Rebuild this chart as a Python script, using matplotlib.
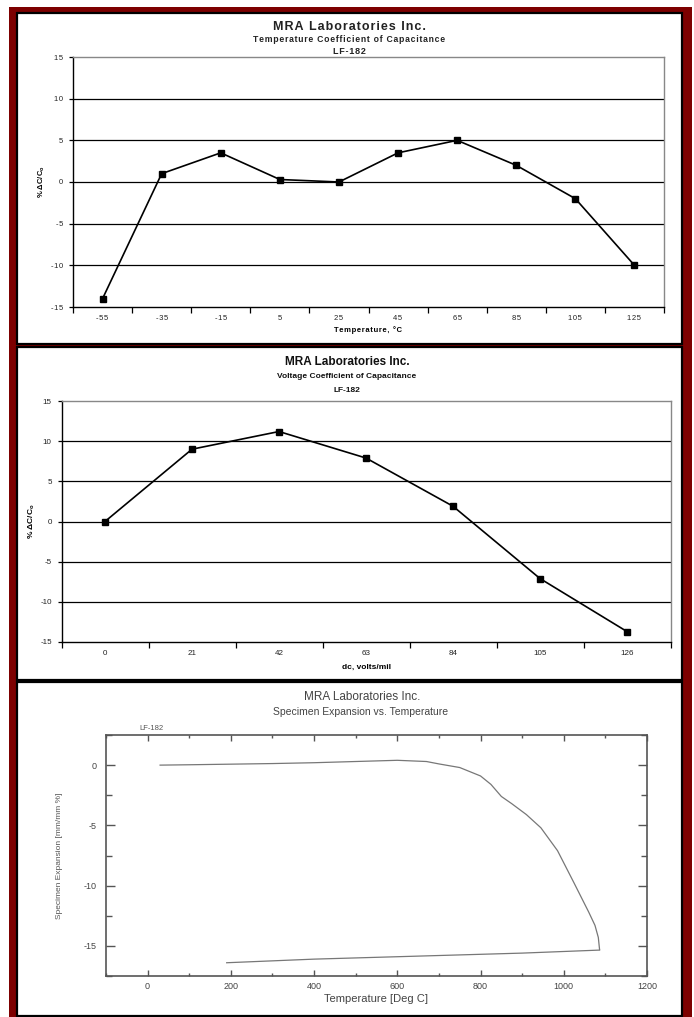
import numpy as np
import matplotlib.pyplot as plt
from matplotlib.patches import Rectangle
from matplotlib.ticker import MultipleLocator

# figure size in pixels
W, H = 694, 1017

# -----------------------------
# DATA
# -----------------------------
# temperature coefficient of capacitance
tc_temps = ["-55", "-35", "-15", "5", "25", "45", "65", "85", "105", "125"]
tc_change = [-14, 1, 3.5, 0.3, 0, 3.5, 5, 2, -2, -10]

# voltage coefficient of capacitance
vc_fields = ["0", "21", "42", "63", "84", "105", "126"]
vc_change = [0, 9, 11.2, 7.9, 1.9, -7.1, -13.7]

# dilatometer trace, heating leg then cooling leg
heat_temp = [30, 100, 200, 300, 400, 500, 600, 670, 700, 750, 800, 825, 850,
             875, 910, 945, 985, 1025, 1060, 1075, 1083, 1086]
heat_exp = [0.0, 0.03, 0.08, 0.13, 0.2, 0.3, 0.4, 0.3, 0.1, -0.2, -0.9, -1.6,
            -2.6, -3.2, -4.1, -5.2, -7.1, -9.8, -12.2, -13.3, -14.3, -15.3]
cool_temp = [1086, 900, 600, 400, 190]
cool_exp = [-15.35, -15.6, -15.9, -16.1, -16.4]

plt.rcParams['font.family'] = ['Liberation Sans', 'DejaVu Sans']
plt.rcParams['axes.unicode_minus'] = False


def box(x0, y0, x1, y1):
    # pixel box, top-left origin -> figure fraction rect
    return [x0 / W, 1 - y1 / H, (x1 - x0) / W, (y1 - y0) / H]


def px(x, y):
    return x / W, 1 - y / H


def spaced(s):
    # mimic the letter-spaced Excel fonts
    return "\u200a".join(s)


fig = plt.figure(figsize=(W / 100, H / 100), dpi=100)
fig.patch.set_facecolor("white")

# red frame + white panels
fig.add_artist(Rectangle(px(9, 1017), (692 - 9) / W, (1017 - 7) / H,
                         transform=fig.transFigure, facecolor="#7d0000",
                         edgecolor="none", zorder=0))
for (x0, y0, x1, y1) in [(17, 13, 682, 344), (17, 347, 682, 680), (17, 682, 682, 1016)]:
    fig.add_artist(Rectangle(px(x0, y1), (x1 - x0) / W, (y1 - y0) / H,
                             transform=fig.transFigure, facecolor="white",
                             edgecolor="black", lw=1.6, zorder=1))


def excel_axes(rect, labels, values, fs):
    ax = fig.add_axes(rect)
    ax.set_zorder(2)
    n = len(labels)
    ax.plot(range(n), values, color="black", lw=1.2, marker="s", ms=5,
            mfc="black", mec="black", zorder=3)
    ax.set_xlim(-0.5, n - 0.5)
    ax.set_ylim(-15, 15)
    ax.set_yticks(range(-15, 16, 5))
    for y in ax.get_yticks()[1:-1]:
        ax.axhline(y, color="black", lw=0.9, zorder=1)
    ax.set_xticks(range(n))
    ax.set_xticklabels(labels)
    ax.set_xticks(np.arange(-0.5, n, 1), minor=True)
    ax.tick_params(axis="x", which="major", length=0, pad=6, labelsize=fs, labelcolor="#222")
    ax.tick_params(axis="x", which="minor", length=4, width=0.9, direction="out", color="black")
    ax.tick_params(axis="y", length=3, width=0.9, pad=4, labelsize=fs, labelcolor="#222")
    for side in ["left", "bottom"]:
        ax.spines[side].set_color("black")
        ax.spines[side].set_linewidth(1.0)
    for side in ["top", "right"]:
        ax.spines[side].set_color("#888888")
        ax.spines[side].set_linewidth(1.0)
    return ax


# -----------------------------
# PANEL 1: TCC
# -----------------------------
ax1 = excel_axes(box(73, 57, 664, 307), [spaced(t) for t in tc_temps], tc_change, 5.5)
ax1.set_yticklabels([spaced(str(v)) for v in range(-15, 16, 5)])
ax1.set_xlabel(spaced("Temperature, °C"), fontsize=5.5, fontweight="bold", va="center")
ax1.xaxis.set_label_coords(0.5, (307 - 330) / 250)
ax1.set_ylabel("% ΔC/C$_\\mathregular{o}$", fontsize=5.5, fontweight="bold", va="center")
ax1.yaxis.set_label_coords((42 - 73) / 591, 0.5)

fig.text(*px(349, 27), spaced("MRA Laboratories Inc."), ha="center", va="center",
         fontsize=9, fontweight="bold", color="#222")
fig.text(*px(349, 40), spaced("Temperature Coefficient of Capacitance"), ha="center",
         va="center", fontsize=6.2, fontweight="bold", color="#222")
fig.text(*px(349, 51.5), spaced("LF-182"), ha="center", va="center",
         fontsize=6.5, fontweight="bold", color="#222")

# -----------------------------
# PANEL 2: VCC
# -----------------------------
ax2 = excel_axes(box(61.5, 401, 670.5, 642), vc_fields, vc_change, 5.8)
ax2.set_xlabel("dc, volts/mil", fontsize=6, fontweight="bold", va="center")
ax2.xaxis.set_label_coords(0.5, (642 - 667) / 241)
ax2.set_ylabel("% ΔC/C$_\\mathregular{o}$", fontsize=6, fontweight="bold", va="center")
ax2.yaxis.set_label_coords((32 - 61.5) / 609, 0.5)

fig.text(*px(347, 362), "MRA Laboratories Inc.", ha="center", va="center",
         fontsize=8.5, fontweight="bold", color="#111")
fig.text(*px(347, 377), "Voltage Coefficient of Capacitance", ha="center",
         va="center", fontsize=6, fontweight="bold", color="#111")
fig.text(*px(347, 390), "LF-182", ha="center", va="center",
         fontsize=6, fontweight="bold", color="#111")

# -----------------------------
# PANEL 3: dilatometry
# -----------------------------
ax3 = fig.add_axes(box(106, 735, 647, 976))
ax3.set_zorder(2)
ax3.plot(heat_temp, heat_exp, color="#777777", lw=0.9)
ax3.plot(cool_temp, cool_exp, color="#777777", lw=0.9)
ax3.set_xlim(-100, 1200)
ax3.set_ylim(-17.5, 2.5)
ax3.xaxis.set_major_locator(MultipleLocator(200))
ax3.xaxis.set_minor_locator(MultipleLocator(100))
ax3.yaxis.set_major_locator(MultipleLocator(5))
ax3.yaxis.set_minor_locator(MultipleLocator(2.5))
ax3.tick_params(which="both", direction="in", top=True, right=True,
                color="#555555", labelcolor="#444444", labelsize=6.5, width=1.0)
ax3.tick_params(axis="x", which="major", length=4, pad=4.5)
ax3.tick_params(axis="x", which="minor", length=2)
ax3.tick_params(axis="y", which="major", length=6.5, pad=7)
ax3.tick_params(axis="y", which="minor", length=4)
for s in ax3.spines.values():
    s.set_color("#555555")
    s.set_linewidth(1.2)
ax3.set_xlabel("Temperature [Deg C]", fontsize=8, color="#444444", va="center")
ax3.xaxis.set_label_coords(0.5, (976 - 999) / 241)
ax3.set_ylabel("Specimen Expansion [mm/mm %]", fontsize=6, color="#555555", va="center")
ax3.yaxis.set_label_coords((60 - 106) / 541, 0.5)

fig.text(*px(362, 697), "MRA Laboratories Inc.", ha="center", va="center",
         fontsize=8.5, color="#444444")
fig.text(*px(361, 712), "Specimen Expansion vs. Temperature", ha="center",
         va="center", fontsize=7.5, color="#444444")
fig.text(*px(151, 728), "LF-182", ha="center", va="center",
         fontsize=5.5, color="#555555")

fig.savefig("out.png", dpi=100)
